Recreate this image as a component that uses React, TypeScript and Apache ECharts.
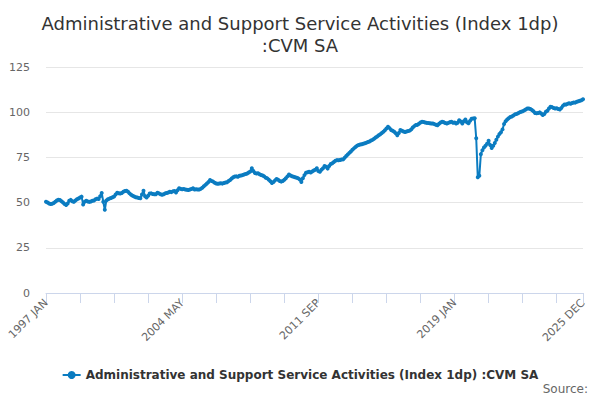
import React, { useEffect, useRef } from "react";
import * as echarts from "echarts";

const years = [1997,1998,1999,2000,2001,2002,2003,2004,2005,2006,2007,2008,2009,2010,2011,2012,2013,2014,2015,2016,2017,2018,2019,2020,2021,2022,2023,2024,2025];
const months = ["JAN","FEB","MAR","APR","MAY","JUN","JUL","AUG","SEP","OCT","NOV","DEC"];

const v1997 = [50.5, 50.0, 49.5, 49.2, 49.4, 49.8, 50.5, 51.2, 51.6, 51.4, 50.8, 50.0];
const v1998 = [49.2, 48.7, 49.5, 51.0, 51.5, 50.8, 50.4, 51.2, 51.8, 52.3, 52.8, 53.3];
const v1999 = [49.0, 50.5, 51.0, 50.6, 50.4, 50.6, 51.0, 51.2, 51.8, 52.2, 52.0, 53.5];
const v2000 = [55.3, 50.5, 46.0, 51.2, 51.8, 52.2, 52.5, 53.0, 53.4, 54.5, 55.5, 55.2];
const v2001 = [55.0, 55.3, 56.0, 56.4, 56.6, 56.0, 55.1, 54.3, 53.8, 53.4, 53.0, 52.8];
const v2002 = [52.5, 52.4, 54.5, 56.6, 53.5, 52.8, 53.8, 55.0, 55.1, 54.8, 54.6, 54.6];
const v2003 = [55.4, 55.1, 54.6, 54.3, 54.6, 55.1, 55.3, 55.6, 56.0, 55.8, 56.2, 56.4];
const v2004 = [55.6, 56.8, 57.9, 57.6, 57.4, 57.5, 57.3, 57.1, 57.0, 57.3, 57.5, 57.9];
const v2005 = [57.3, 57.4, 57.3, 57.2, 57.6, 58.2, 59.0, 59.8, 60.6, 61.4, 62.5, 61.9];
const v2006 = [61.6, 61.0, 60.6, 60.4, 60.6, 60.7, 60.5, 60.8, 61.1, 61.3, 62.0, 62.5];
const v2007 = [63.3, 64.0, 64.4, 64.5, 64.3, 64.8, 65.0, 65.2, 65.5, 65.8, 66.1, 66.6];
const v2008 = [67.2, 69.0, 67.5, 66.4, 66.1, 66.2, 65.7, 65.3, 65.0, 64.5, 63.8, 63.4];
const v2009 = [62.6, 61.8, 60.8, 61.4, 62.3, 63.0, 62.6, 62.0, 61.6, 62.0, 62.6, 63.5];
const v2010 = [64.5, 65.5, 65.0, 64.6, 64.3, 64.0, 63.8, 63.4, 62.8, 61.4, 63.5, 65.2];
const v2011 = [66.5, 66.8, 67.1, 66.7, 67.2, 67.7, 68.2, 69.0, 67.4, 67.1, 68.2, 69.0];
const v2012 = [70.3, 69.8, 68.8, 70.2, 71.3, 71.8, 72.5, 73.2, 73.5, 73.4, 73.6, 73.8];
const v2013 = [73.9, 74.8, 75.8, 76.6, 77.5, 78.3, 79.2, 80.0, 80.8, 81.4, 81.9, 82.1];
const v2014 = [82.3, 82.6, 82.8, 83.1, 83.5, 83.8, 84.3, 84.7, 85.3, 86.0, 86.6, 87.2];
const v2015 = [87.8, 88.5, 89.2, 90.0, 91.0, 92.0, 91.2, 90.2, 89.7, 89.2, 88.4, 87.2];
const v2016 = [88.5, 90.2, 89.7, 89.3, 89.0, 89.3, 89.6, 89.8, 90.5, 91.5, 92.3, 92.9];
const v2017 = [93.0, 93.6, 94.3, 94.7, 94.6, 94.3, 94.1, 94.0, 93.9, 93.8, 93.7, 93.4];
const v2018 = [93.0, 92.8, 93.6, 94.3, 94.7, 94.5, 94.0, 93.8, 94.1, 94.5, 94.7, 94.2];
const v2019 = [94.3, 93.8, 94.2, 95.5, 94.8, 93.8, 95.0, 96.0, 94.5, 93.9, 95.2, 96.4];
const v2020 = [96.5, 96.6, 85.6, 64.0, 64.8, 76.8, 79.0, 80.5, 81.5, 82.6, 84.2, 81.8];
const v2021 = [80.2, 81.5, 83.0, 84.8, 86.5, 88.0, 88.9, 90.5, 93.5, 95.0, 96.0, 96.6];
const v2022 = [97.3, 97.6, 98.2, 98.8, 99.0, 99.4, 99.9, 100.2, 100.5, 101.0, 101.5, 102.0];
const v2023 = [102.1, 101.8, 101.2, 100.5, 99.6, 99.4, 99.6, 99.9, 99.3, 98.5, 99.0, 100.2];
const v2024 = [100.8, 102.0, 103.0, 102.8, 102.3, 102.0, 102.2, 101.8, 101.5, 102.3, 103.5, 104.3];
const v2025 = [104.2, 104.6, 104.9, 104.7, 105.1, 105.4, 105.3, 105.8, 106.0, 106.3, 106.6, 107.2];

const values = [
  ...v1997, ...v1998, ...v1999, ...v2000, ...v2001, ...v2002, ...v2003, ...v2004,
  ...v2005, ...v2006, ...v2007, ...v2008, ...v2009, ...v2010, ...v2011, ...v2012,
  ...v2013, ...v2014, ...v2015, ...v2016, ...v2017, ...v2018, ...v2019, ...v2020,
  ...v2021, ...v2022, ...v2023, ...v2024, ...v2025,
];

const categories: string[] = [];
years.forEach((y) => months.forEach((m) => categories.push(`${y} ${m}`)));

const seriesName = "Administrative and Support Service Activities (Index 1dp) :CVM SA";
const titleText = "Administrative and Support Service Activities (Index 1dp)\n:CVM SA";
const FONT = "'DejaVu Sans', Verdana, sans-serif";
const LINE_COLOR = "#0b7cc1";

export default function App() {
  const ref = useRef<HTMLDivElement>(null);
  useEffect(() => {
    if (!ref.current) return;
    const chart = echarts.init(ref.current, null, { renderer: "svg" });
    const last = categories.length - 1;
    chart.setOption({
      animation: false,
      backgroundColor: "#ffffff",
      title: {
        text: titleText,
        left: "center",
        top: 7,
        textStyle: {
          fontFamily: FONT,
          fontSize: 18,
          fontWeight: "normal",
          color: "#333333",
          lineHeight: 22,
        },
      },
      legend: {
        top: 364,
        left: "center",
        itemWidth: 18,
        itemHeight: 10,
        itemGap: 8,
        data: [seriesName],
        textStyle: {
          fontFamily: FONT,
          fontSize: 12,
          fontWeight: "bold",
          color: "#333333",
        },
      },
      graphic: [
        {
          type: "text",
          right: 12,
          top: 383,
          style: {
            text: "Source:",
            fontFamily: FONT,
            fontSize: 12,
            fill: "#666666",
          },
        },
      ],
      grid: { left: 46, right: 17, top: 67, bottom: 107, containLabel: false },
      xAxis: {
        type: "category",
        data: categories,
        boundaryGap: false,
        axisLine: { show: true, lineStyle: { color: "#ccd6eb", width: 1 } },
        axisTick: {
          show: true,
          length: 10,
          interval: (i: number) => i % 22 === 0 || i === last,
          lineStyle: { color: "#ccd6eb" },
        },
        axisLabel: {
          interval: (i: number) => i % 88 === 0 || i === last,
          rotate: 45,
          margin: 8,
          fontFamily: FONT,
          fontSize: 11,
          color: "#666666",
          showMaxLabel: true,
        },
        splitLine: { show: false },
      },
      yAxis: {
        type: "value",
        min: 0,
        max: 125,
        interval: 25,
        axisLine: { show: false },
        axisTick: { show: false },
        axisLabel: {
          margin: 16,
          fontFamily: FONT,
          fontSize: 11,
          color: "#666666",
        },
        splitLine: { lineStyle: { color: "#e6e6e6", width: 1 } },
      },
      series: [
        {
          name: seriesName,
          type: "line",
          data: values,
          showAllSymbol: true,
          symbol: "circle",
          symbolSize: 4,
          itemStyle: { color: LINE_COLOR },
          lineStyle: { color: LINE_COLOR, width: 2 },
        },
      ],
    });
    return () => chart.dispose();
  }, []);
  return (
    <div
      ref={ref}
      style={{ position: "fixed", left: 0, top: 0, width: 600, height: 400 }}
    />
  );
}
